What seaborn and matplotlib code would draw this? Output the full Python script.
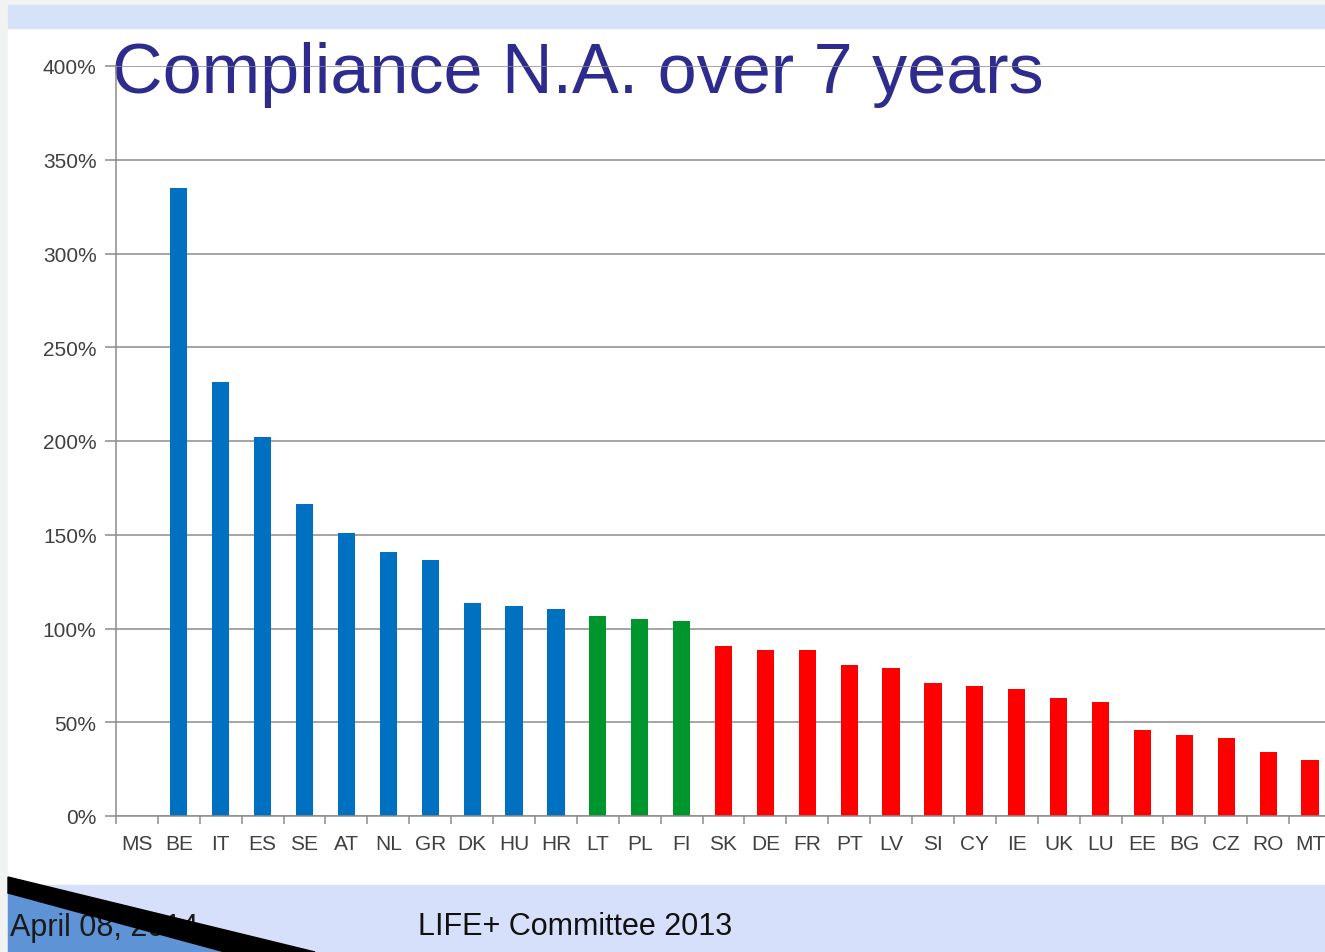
import pandas as pd
import matplotlib
matplotlib.use("Agg")
import matplotlib.pyplot as plt
from matplotlib.patches import Rectangle, Polygon
from matplotlib.ticker import FixedLocator, PercentFormatter
import seaborn as sns

# Data (percent)
countries = ["MS", "BE", "IT", "ES", "SE", "AT", "NL", "GR", "DK", "HU", "HR",
             "LT", "PL", "FI",
             "SK", "DE", "FR", "PT", "LV", "SI", "CY", "IE", "UK", "LU", "EE",
             "BG", "CZ", "RO", "MT"]
compliance = [0, 335, 231.5, 202, 166.5, 151, 141, 136.5, 113.5, 112, 110.5,
              106.5, 105, 104,
              90.5, 88.5, 88.5, 80.5, 79, 71, 69.5, 67.5, 63, 61, 46,
              43, 41.5, 34, 30]
groups = (["blue"] * 11) + (["green"] * 3) + (["red"] * 15)
group_colors = {"blue": "#0070C0", "green": "#00962E", "red": "#FF0000"}

df = pd.DataFrame({"country": countries, "value": compliance, "group": groups})

W, H = 1325, 953


def fx(x):
    return x / W


def fy(y):
    return 1 - y / H


sns.set_style("white")
plt.rcParams["font.family"] = ["Liberation Sans", "DejaVu Sans"]

fig = plt.figure(figsize=(13.25, 9.53), dpi=100)
fig.patch.set_facecolor("#F1F3F3")

# slide background pieces
fig.add_artist(Rectangle((fx(8), 0), 1, fy(6),
                         transform=fig.transFigure, color="white", zorder=-10))
fig.add_artist(Rectangle((fx(8), fy(29)), 1, fy(6) - fy(29),
                         transform=fig.transFigure, color="#D6E2F8", zorder=-9))
fig.add_artist(Rectangle((fx(8), 0), 1, fy(886),
                         transform=fig.transFigure, color="#D7E0FA", zorder=-9))

# axes
ax = fig.add_axes([fx(116), fy(817), fx(1331) - fx(116), fy(67) - fy(817)])
ax.set_facecolor("none")

sns.barplot(data=df, x="country", y="value", hue="group", palette=group_colors,
            dodge=False, width=0.41, linewidth=0, saturation=1, legend=False,
            ax=ax, zorder=2)

ax.set_xlim(-0.5, len(countries) - 0.5)
ax.set_ylim(0, 400)
ax.yaxis.set_major_locator(FixedLocator(range(0, 401, 50)))
ax.yaxis.set_major_formatter(PercentFormatter(decimals=0))
ax.set_axisbelow(True)
ax.grid(axis="y", color="#8C8C8C", linewidth=1.1)
ax.set_xlabel("")
ax.set_ylabel("")

for side in ["top", "right"]:
    ax.spines[side].set_visible(False)
for side in ["left", "bottom"]:
    ax.spines[side].set_color("#8C8C8C")
    ax.spines[side].set_linewidth(1.1)

ax.tick_params(axis="y", length=8, width=1.1, color="#8C8C8C", pad=6,
               labelsize=15, labelcolor="#404040", left=True)
ax.tick_params(axis="x", which="major", length=0, pad=13,
               labelsize=15, labelcolor="#404040")
ax.xaxis.set_minor_locator(FixedLocator([i + 0.5 for i in range(-1, len(countries))]))
ax.tick_params(axis="x", which="minor", length=6, width=1.1, color="#8C8C8C",
               bottom=True, direction="out")

# title sits under the top gridline
ax.text(fx(112), fy(93), "Compliance N.A. over 7 years", transform=fig.transFigure,
        fontsize=50.5, color="#2D2C8E", ha="left", va="baseline", zorder=0.2,
        clip_on=False)

# footer decoration
fig.add_artist(Polygon([(fx(8), fy(893)), (fx(8), fy(953)), (fx(235), fy(953))],
                       closed=True, transform=fig.transFigure, color="#5E93D6", zorder=-8))
fig.text(fx(10), fy(936), "April 08, 2014", fontsize=22, color="#1A1A1A",
         ha="left", va="baseline", zorder=1)
fig.add_artist(Polygon([(fx(8), fy(878)), (fx(315), fy(953)), (fx(225), fy(953)), (fx(8), fy(894))],
                       closed=True, transform=fig.transFigure, color="black", zorder=2))
fig.text(fx(418), fy(935), "LIFE+ Committee 2013", fontsize=22, color="#111111",
         ha="left", va="baseline")

fig.savefig("out.png", dpi=100, facecolor=fig.get_facecolor())
